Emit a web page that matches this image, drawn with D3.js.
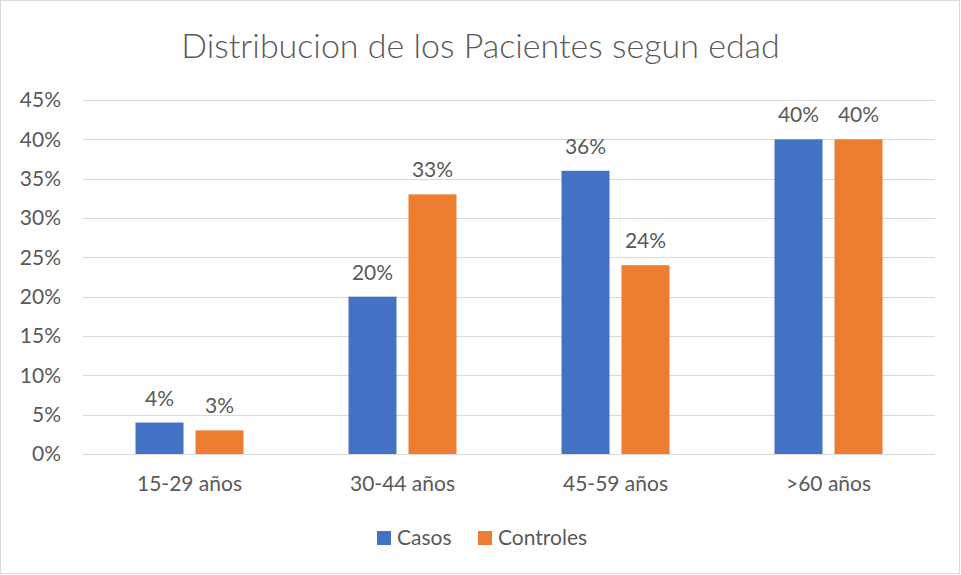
<!DOCTYPE html>
<html lang="es">
<head>
<meta charset="UTF-8">
<script src="https://d3js.org/d3.v7.min.js"></script>
<style>
  body { margin: 0; background: #fff; }
  text { font-family: Lato, "Open Sans", sans-serif; fill: #595959; }
</style>
</head>
<body>
<script>
  var width = 961, height = 575;

  // data
  var categories = ["15-29 años", "30-44 años", "45-59 años", ">60 años"];
  var seriesNames = ["Casos", "Controles"];
  var casos = [0.04, 0.20, 0.36, 0.40];
  var controles = [0.03, 0.33, 0.24, 0.40];
  var yTicks = [0, 0.05, 0.10, 0.15, 0.20, 0.25, 0.30, 0.35, 0.40, 0.45];
  var colors = ["#4472C4", "#ED7D31"];

  var rows = categories.map(function (c, i) {
    return { cat: c, values: [casos[i], controles[i]] };
  });

  var margin = { left: 83, right: 26, top: 100, bottom: 121 };
  var fs = "21px";

  var svg = d3.select("body").append("svg")
    .attr("width", width)
    .attr("height", height);

  // chart frame
  svg.append("rect")
    .attr("x", 0.5).attr("y", 0.5)
    .attr("width", width - 2).attr("height", height - 2)
    .attr("fill", "#fff")
    .attr("stroke", "#d9d9d9");

  var x0 = d3.scaleBand()
    .domain(categories)
    .range([margin.left, width - margin.right])
    .paddingInner(0.493)
    .paddingOuter(0.2465);

  var x1 = d3.scaleBand()
    .domain(seriesNames)
    .range([0, x0.bandwidth()])
    .paddingInner(0.2);

  var y = d3.scaleLinear()
    .domain([0, 0.45])
    .range([height - margin.bottom, margin.top]);

  // gridlines
  svg.append("g")
    .selectAll("line")
    .data(yTicks)
    .join("line")
    .attr("x1", margin.left)
    .attr("x2", width - margin.right)
    .attr("y1", function (d) { return Math.round(y(d)) + 0.5; })
    .attr("y2", function (d) { return Math.round(y(d)) + 0.5; })
    .attr("stroke", "#d9d9d9")
    .attr("stroke-width", 1);

  // y axis labels
  var yAxis = d3.axisLeft(y)
    .tickValues(yTicks)
    .tickFormat(d3.format(".0%"))
    .tickSize(0)
    .tickPadding(22);
  var gy = svg.append("g")
    .attr("transform", "translate(" + margin.left + ",0)")
    .call(yAxis);
  gy.select(".domain").remove();
  gy.selectAll("text").style("font-size", fs).attr("fill", "#595959");

  // x axis labels
  var xAxis = d3.axisBottom(x0).tickSize(0).tickPadding(22);
  var gx = svg.append("g")
    .attr("transform", "translate(0," + (height - margin.bottom) + ")")
    .call(xAxis);
  gx.select(".domain").remove();
  gx.selectAll("text").style("font-size", fs).attr("fill", "#595959");

  // bars
  var groups = svg.append("g")
    .selectAll("g")
    .data(rows)
    .join("g")
    .attr("transform", function (d) { return "translate(" + x0(d.cat) + ",0)"; });

  groups.selectAll("rect")
    .data(function (d) {
      return d.values.map(function (v, i) { return { name: seriesNames[i], value: v, i: i }; });
    })
    .join("rect")
    .attr("x", function (d) { return x1(d.name); })
    .attr("y", function (d) { return y(d.value); })
    .attr("width", x1.bandwidth())
    .attr("height", function (d) { return y(0) - y(d.value); })
    .attr("fill", function (d) { return colors[d.i]; });

  groups.selectAll("text")
    .data(function (d) {
      return d.values.map(function (v, i) { return { name: seriesNames[i], value: v }; });
    })
    .join("text")
    .attr("x", function (d) { return x1(d.name) + x1.bandwidth() / 2; })
    .attr("y", function (d) { return y(d.value) - 17; })
    .attr("text-anchor", "middle")
    .style("font-size", fs)
    .text(function (d) { return d3.format(".0%")(d.value); });

  // title
  svg.append("text")
    .attr("x", width / 2)
    .attr("y", 58)
    .attr("text-anchor", "middle")
    .style("font-size", "34px")
    .style("font-weight", "300")
    .text("Distribucion de los Pacientes segun edad");

  // legend
  var legendX = [377, 478];
  var legend = svg.append("g")
    .selectAll("g")
    .data(seriesNames)
    .join("g")
    .attr("transform", function (d, i) { return "translate(" + legendX[i] + ",531)"; });
  legend.append("rect")
    .attr("width", 14).attr("height", 14)
    .attr("fill", function (d, i) { return colors[i]; });
  legend.append("text")
    .attr("x", 20)
    .attr("y", 14)
    .style("font-size", fs)
    .text(function (d) { return d; });
</script>
</body>
</html>
